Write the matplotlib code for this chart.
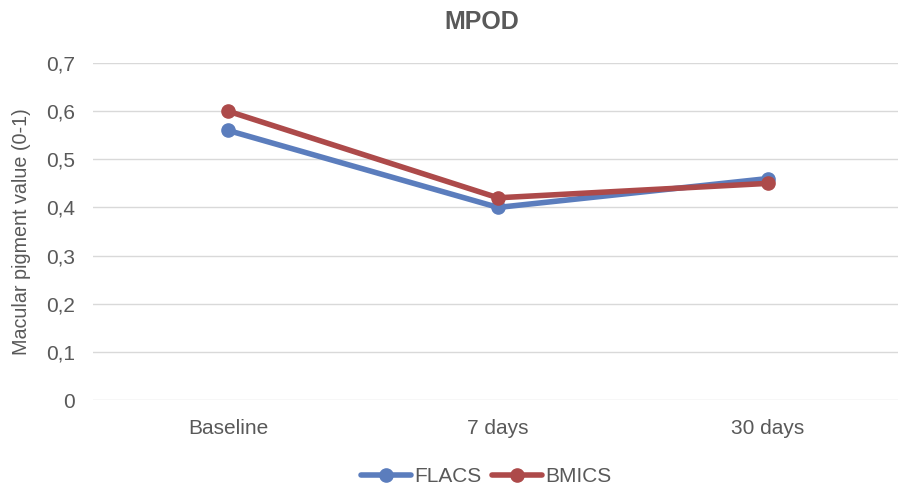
import matplotlib
matplotlib.use("Agg")
import matplotlib.pyplot as plt

categories = ["Baseline", "7 days", "30 days"]
flacs = [0.56, 0.40, 0.46]
bmics = [0.60, 0.42, 0.45]
yticks = [0, 0.1, 0.2, 0.3, 0.4, 0.5, 0.6, 0.7]
ytick_labels = ["0", "0,1", "0,2", "0,3", "0,4", "0,5", "0,6", "0,7"]

plt.rcParams['font.family'] = ['Liberation Sans', 'DejaVu Sans']
txt = '#595959'

fig = plt.figure(figsize=(8.98, 4.87), dpi=100)
ax = fig.add_axes([93/898, 87/487, 810/898, 337/487])

x = range(len(categories))
ax.plot(x, flacs, color='#5b7dbd', lw=4, marker='o', ms=9.5, label='FLACS', solid_capstyle='round')
ax.plot(x, bmics, color='#ad4a4a', lw=4, marker='o', ms=9.5, label='BMICS', solid_capstyle='round')

ax.set_xlim(-0.5, 2.5)
ax.set_ylim(0, 0.7)
ax.set_yticks(yticks)
ax.set_yticklabels(ytick_labels)
ax.set_xticks(list(x))
ax.set_xticklabels(categories)
ax.grid(axis='y', color='#d9d9d9', lw=1)
ax.set_axisbelow(True)
for s in ax.spines.values():
    s.set_visible(False)
ax.tick_params(axis='both', length=0, colors=txt, labelsize=15)
ax.tick_params(axis='y', pad=13)
ax.tick_params(axis='x', pad=14)
ax.set_ylabel('Macular pigment value (0-1)', color=txt, fontsize=14.2)
ax.yaxis.set_label_coords(-62/810, 0.5)

fig.text(482/898, 1 - 22/487, 'MPOD', ha='center', va='center', fontsize=18, fontweight='bold', color=txt)

leg = fig.legend(loc='center', bbox_to_anchor=(486/898, 1 - 477/487), ncol=2, frameon=False,
                 fontsize=15, handlelength=2.4, columnspacing=0.5, handletextpad=0.15,
                 labelcolor=txt)

fig.savefig('out.png', dpi=100)
